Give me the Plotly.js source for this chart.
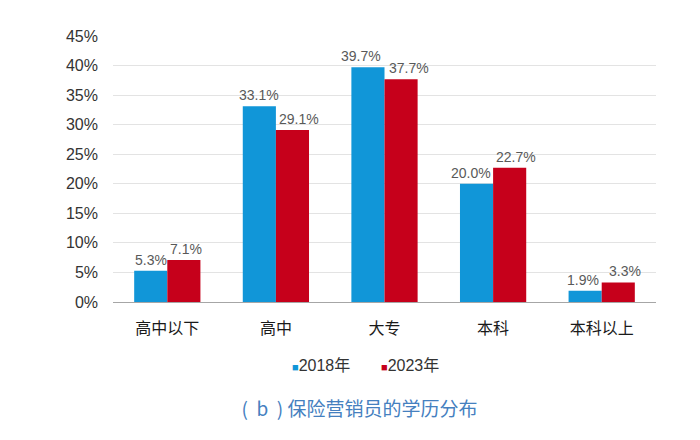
<!DOCTYPE html>
<html><head><meta charset="utf-8">
<script src="https://cdn.plot.ly/plotly-3.0.1.min.js"></script>
<style>html,body{margin:0;padding:0;background:#fff}#c{width:700px;height:440px}</style>
</head><body><div id="c"></div>
<script>
const categories = ['高中以下','高中','大专','本科','本科以上'];
const series2018 = [5.3, 33.1, 39.7, 20.0, 1.9];
const series2023 = [7.1, 29.1, 37.7, 22.7, 3.3];
const seriesNames = ['2018年','2023年'];
const seriesColors = ['#1196d8', '#c6001b'];
const yTicks = [0,5,10,15,20,25,30,35,40,45];
const yTickLabels = yTicks.map(v => v + '%');
const NB = '\u00A0';
const chartTitle = '(' + NB + NB + 'b' + NB + NB + ')' + NB + '保险营销员的学历分布';

const FONT = '"Liberation Sans", "Noto Sans CJK SC", sans-serif';
function tr(name, vals, color){
  return {type:'bar', name:name, x:categories, y:vals, marker:{color:color},
    hoverinfo:'skip', showlegend:false};
}
const data = [tr(seriesNames[0], series2018, seriesColors[0]), tr(seriesNames[1], series2023, seriesColors[1])];

// value labels (nudged sideways like in the original to avoid overlap)
const BAR_HALF = 16.6;
const nudge = [[0, 0, -7, -6, -2], [2, 6, 8, 6, 7]];
const labelAnn = [];
[series2018, series2023].forEach((vals, s) => {
  vals.forEach((v, i) => {
    labelAnn.push({xref:'x', yref:'y', x:categories[i], y:v, xanchor:'center', yanchor:'bottom',
      xshift:(s === 0 ? -BAR_HALF : BAR_HALF) + nudge[s][i], yshift:1, showarrow:false,
      text:v.toFixed(1)+'%', font:{family:FONT, size:14, color:'#595959'}});
  });
});

// legend drawn as annotations (small squares right before the text)
const legendAnn = seriesNames.map((n, i) => ({
  xref:'paper', yref:'paper', x: i === 0 ? 0.326 : 0.49, y:-0.24, xanchor:'left', yanchor:'middle',
  showarrow:false, text:'<span style="color:'+seriesColors[i]+';font-size:11px">■</span>'+n,
  font:{family:FONT, size:16, color:'#333'}
}));

const layout = {
  width:700, height:440, margin:{l:113, r:44, t:36, b:138},
  paper_bgcolor:'#fff', plot_bgcolor:'#fff',
  barmode:'group', bargap:0.39, bargroupgap:0,
  font:{family:FONT},
  xaxis:{tickfont:{family:FONT, size:16, color:'#1a1a1a'}, showline:true, linecolor:'#a6a6a6', linewidth:1,
    ticks:'', ticklen:0, ticklabelstandoff:12},
  yaxis:{range:[0,45], tickvals:yTicks, ticktext:yTickLabels, showgrid:true, gridcolor:'#e3e3e3', gridwidth:1,
    zeroline:false, tickfont:{family:FONT, size:16, color:'#333'}, ticks:'', ticklen:0, ticklabelstandoff:14},
  annotations: labelAnn.concat(legendAnn),
  title:{text:chartTitle, xref:'paper', x:0.454, xanchor:'center', yref:'container', y:0.07, yanchor:'middle',
    font:{family:'"Noto Sans CJK SC", sans-serif', size:19, color:'#4580bf'}},
  showlegend:false
};
Plotly.newPlot('c', data, layout, {displayModeBar:false, staticPlot:true});
</script></body></html>
